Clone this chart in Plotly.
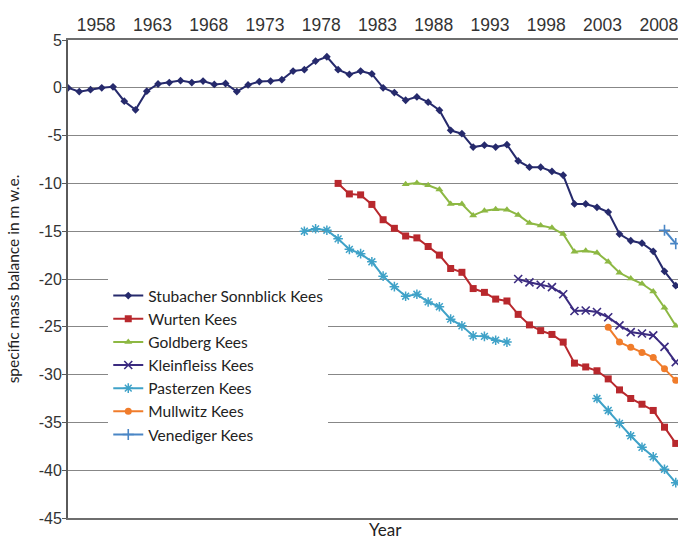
import plotly.graph_objects as go

# ---------------- data ----------------
stub_years = list(range(1958, 2013))
stub_vals = [0.0, -0.4, -0.2, 0.0, 0.1, -1.4, -2.3, -0.35, 0.4, 0.55,
             0.75, 0.55, 0.7, 0.35, 0.45, -0.4, 0.3, 0.65, 0.7, 0.85,
             1.75, 1.9, 2.8, 3.25, 1.9, 1.4, 1.75, 1.45, 0.0, -0.5,
             -1.3, -0.95, -1.5, -2.35, -4.45, -4.8, -6.2, -6.0, -6.2, -5.95,
             -7.65, -8.3, -8.3, -8.75, -9.15, -12.15, -12.15, -12.5, -13.0, -15.3,
             -16.0, -16.25, -17.1, -19.2, -20.7]

wurten_years = list(range(1982, 2013))
wurten_vals = [-10.0, -11.1, -11.2, -12.2, -13.8, -14.7, -15.5, -15.7, -16.6, -17.5,
               -18.9, -19.3, -21.0, -21.4, -22.1, -22.3, -23.7, -24.8, -25.4, -25.8,
               -26.6, -28.8, -29.2, -29.6, -30.45, -31.6, -32.5, -33.1, -33.75, -35.5,
               -37.2]

goldberg_years = list(range(1988, 2013))
goldberg_vals = [-10.1, -9.95, -10.2, -10.65, -12.15, -12.15, -13.35, -12.85, -12.7, -12.75,
                 -13.3, -14.15, -14.4, -14.65, -15.3, -17.15, -17.05, -17.25, -18.2, -19.35,
                 -19.95, -20.5, -21.3, -23.0, -24.9]

kleinfleiss_years = list(range(1998, 2013))
kleinfleiss_vals = [-20.0, -20.35, -20.6, -20.85, -21.6, -23.35, -23.3, -23.45, -24.0, -24.85,
                    -25.55, -25.7, -25.9, -27.1, -28.7]

pasterzen_years = list(range(1979, 2013))
pasterzen_vals = [-15.0, -14.75, -14.9, -15.8, -16.9, -17.35, -18.2, -19.7, -20.8, -21.8,
                  -21.6, -22.4, -22.9, -24.2, -24.9, -25.95, -26.0, -26.4, -26.6,
                  None, None, None, None, None, None, None,
                  -32.5, -33.75, -35.1, -36.4, -37.6, -38.6, -39.9, -41.3]

mullwitz_years = list(range(2006, 2013))
mullwitz_vals = [-25.05, -26.6, -27.15, -27.7, -28.2, -29.4, -30.6]

venediger_years = [2011, 2012]
venediger_vals = [-14.9, -16.3]

tick_years = [1958, 1963, 1968, 1973, 1978, 1983, 1988, 1993, 1998, 2003, 2008]
tick_labels = [str(y) for y in tick_years]
y_ticks = [5, 0, -5, -10, -15, -20, -25, -30, -35, -40, -45]
y_tick_labels = [str(v) for v in y_ticks]

# ---------------- figure ----------------
fig = go.Figure()

series = [
    ("Stubacher Sonnblick Kees", stub_years, stub_vals, "#262a6c", "diamond", 6, 0),
    ("Wurten Kees", wurten_years, wurten_vals, "#b8282d", "square", 7, 0),
    ("Goldberg Kees", goldberg_years, goldberg_vals, "#8db843", "triangle-up", 7, 0),
    ("Kleinfleiss Kees", kleinfleiss_years, kleinfleiss_vals, "#3b2b80", "x-thin-open", 8, 1.6),
    ("Pasterzen Kees", pasterzen_years, pasterzen_vals, "#3fa2c8", "asterisk-open", 8, 1.5),
    ("Mullwitz Kees", mullwitz_years, mullwitz_vals, "#f07c2b", "circle", 7, 0),
    ("Venediger Kees", venediger_years, venediger_vals, "#4a86c5", "cross-thin-open", 8, 1.6),
]

for name, xs, ys, color, symbol, size, lw in series:
    marker = dict(symbol=symbol, size=size, color=color)
    if lw:
        marker["line"] = dict(color=color, width=lw)
    else:
        marker["line"] = dict(width=0)
    fig.add_trace(go.Scatter(
        x=xs, y=ys, name=name, mode="lines+markers",
        line=dict(color=color, width=2),
        marker=marker, connectgaps=False, cliponaxis=True,
    ))

label_pos = [y + 2.5 for y in tick_years]
x_range = [1958, 2012.2]

fig.update_layout(
    width=678, height=539,
    margin=dict(l=68, r=0, t=40, b=21, autoexpand=False),
    paper_bgcolor="white", plot_bgcolor="white",
    showlegend=True,
    legend=dict(
        x=0.066, y=0.50, xanchor="left", yanchor="top",
        bgcolor="white", borderwidth=0,
        font=dict(family="Lato", size=15.5, color="#222222"),
        itemwidth=30, tracegroupgap=0,
    ),
    xaxis=dict(
        range=x_range, side="top", automargin=False,
        tickmode="array", tickvals=label_pos, ticktext=tick_labels,
        ticklabeloverflow="allow",
        ticks="", showgrid=False, zeroline=False,
        showline=True, linecolor="#6e6e6e", linewidth=1.5, mirror=True,
        tickfont=dict(family="Liberation Sans", size=17.5, color="#333333"),
    ),
    xaxis2=dict(
        overlaying="x", matches="x", side="top", range=x_range, automargin=False,
        tickmode="array", tickvals=tick_years, ticks="outside", ticklen=4,
        tickcolor="#6e6e6e", tickwidth=1.5,
        showticklabels=False, showgrid=False, zeroline=False, showline=False,
    ),
    xaxis3=dict(
        overlaying="x", matches="x", side="top", range=x_range, automargin=False,
        tickmode="array", tickvals=tick_years, ticks="inside", ticklen=4,
        tickcolor="#6e6e6e", tickwidth=1.5,
        showticklabels=False, showgrid=False, zeroline=False, showline=False,
    ),
    yaxis=dict(
        range=[-45, 5], tickmode="array", tickvals=y_ticks, ticktext=y_tick_labels,
        automargin=False,
        showgrid=True, gridcolor="#878787", gridwidth=1.4,
        zeroline=False, showline=True, linecolor="#5a5a5a", linewidth=2,
        ticks="outside", ticklen=4, tickcolor="#5a5a5a",
        ticklabelstandoff=-3,
        tickfont=dict(family="Liberation Sans", size=16, color="#333333"),
        title=dict(text="specific mass balance in m w.e.",
                   font=dict(family="Lato", size=15.5, color="#222222"),
                   standoff=15),
    ),
)

fig.add_annotation(
    text="Year", xref="paper", yref="paper", x=0.52, y=-0.025,
    xanchor="center", yanchor="middle", showarrow=False,
    font=dict(family="Lato", size=17, color="#222222"),
)

# remove the default page margin so the 678x539 figure fills the window exactly
fig.write_html(
    "out.html",
    config={"displayModeBar": False},
    post_script="document.body.style.margin='0';document.body.style.overflow='hidden';",
)
